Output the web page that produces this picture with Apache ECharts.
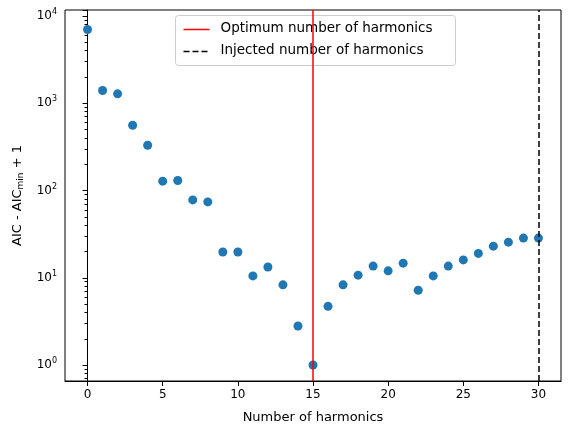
<!DOCTYPE html><html><head><meta charset="utf-8"><script src="https://cdn.jsdelivr.net/npm/echarts@6/dist/echarts.min.js"></script>
<style>body{margin:0}#c{width:570px;height:435px}</style></head><body><div id="c"></div><script>
const harmonics=[...Array(31).keys()];
const aic=[7000,1400,1280,560,330,128,130,78,74,19.7,19.7,10.5,13.3,8.3,2.8,1,4.7,8.3,10.7,13.6,12,14.7,7.2,10.5,13.6,16,19,23,25.6,28.5,28.5];
const optimum=15, injected=30;
const xTicks=[0,5,10,15,20,25,30];
const F='DejaVu Sans';
const ch=echarts.init(document.getElementById('c'));
ch.setOption({
 animation:false,
 textStyle:{fontFamily:F},
 grid:{left:65,right:9,top:10,bottom:54,show:true,borderColor:'#000',borderWidth:1,backgroundColor:'transparent'},
 xAxis:{type:'value',min:-1.5,max:31.5,
  name:'Number of harmonics',nameLocation:'middle',nameGap:30,nameTextStyle:{fontSize:13,color:'#000'},
  axisLine:{lineStyle:{color:'#000'}},axisTick:{length:5,lineStyle:{color:'#000'},customValues:xTicks},splitLine:{show:false},
  axisLabel:{color:'#000',fontSize:12,customValues:xTicks}},
 yAxis:{type:'log',logBase:10,min:0.656,max:11700,
  name:'{a|AIC - AIC}{s|min}{a| + 1}',nameLocation:'middle',nameGap:40,
  nameTextStyle:{rich:{a:{fontSize:13,color:'#000',fontFamily:F},s:{fontSize:9,color:'#000',fontFamily:F,verticalAlign:'bottom',padding:[6,0,0,0]}}},
  axisLine:{show:true,lineStyle:{color:'#000'}},axisTick:{length:5,lineStyle:{color:'#000'}},
  minorTick:{show:true,splitNumber:9,length:3,lineStyle:{color:'#000'}},splitLine:{show:false},
  axisLabel:{color:'#000',fontSize:12,showMinLabel:false,showMaxLabel:false,
   formatter:v=>{const e=Math.round(Math.log10(v));return '{b|10}{e|'+e+'}';},
   rich:{b:{fontSize:12,color:'#000',fontFamily:F},e:{fontSize:8,color:'#000',fontFamily:F,verticalAlign:'top',padding:[0,0,8,0]}}}},
 series:[{type:'scatter',data:harmonics.map((h,i)=>[h,aic[i]]),symbolSize:9,itemStyle:{color:'#1f77b4',opacity:1},
  markLine:{symbol:'none',silent:true,label:{show:false},data:[
   {xAxis:optimum,lineStyle:{color:'#ff0000',type:'solid',width:1.5}},
   {xAxis:injected,lineStyle:{color:'#000',type:[6,3],width:1.5}}]}}],
 graphic:[{type:'group',left:175,top:15,children:[
  {type:'rect',shape:{x:0,y:0,width:280,height:50,r:3},style:{fill:'rgba(255,255,255,0.8)',stroke:'#ccc'}},
  {type:'line',shape:{x1:8,y1:14,x2:34,y2:14},style:{stroke:'#ff0000',lineWidth:1.5}},
  {type:'text',x:45,y:6,style:{text:'Optimum number of harmonics',font:'13.5px DejaVu Sans',fill:'#000'}},
  {type:'line',shape:{x1:8,y1:36,x2:34,y2:36},style:{stroke:'#000',lineWidth:1.5,lineDash:[6,3]}},
  {type:'text',x:45,y:28,style:{text:'Injected number of harmonics',font:'13.5px DejaVu Sans',fill:'#000'}}]}]
});
</script></body></html>
